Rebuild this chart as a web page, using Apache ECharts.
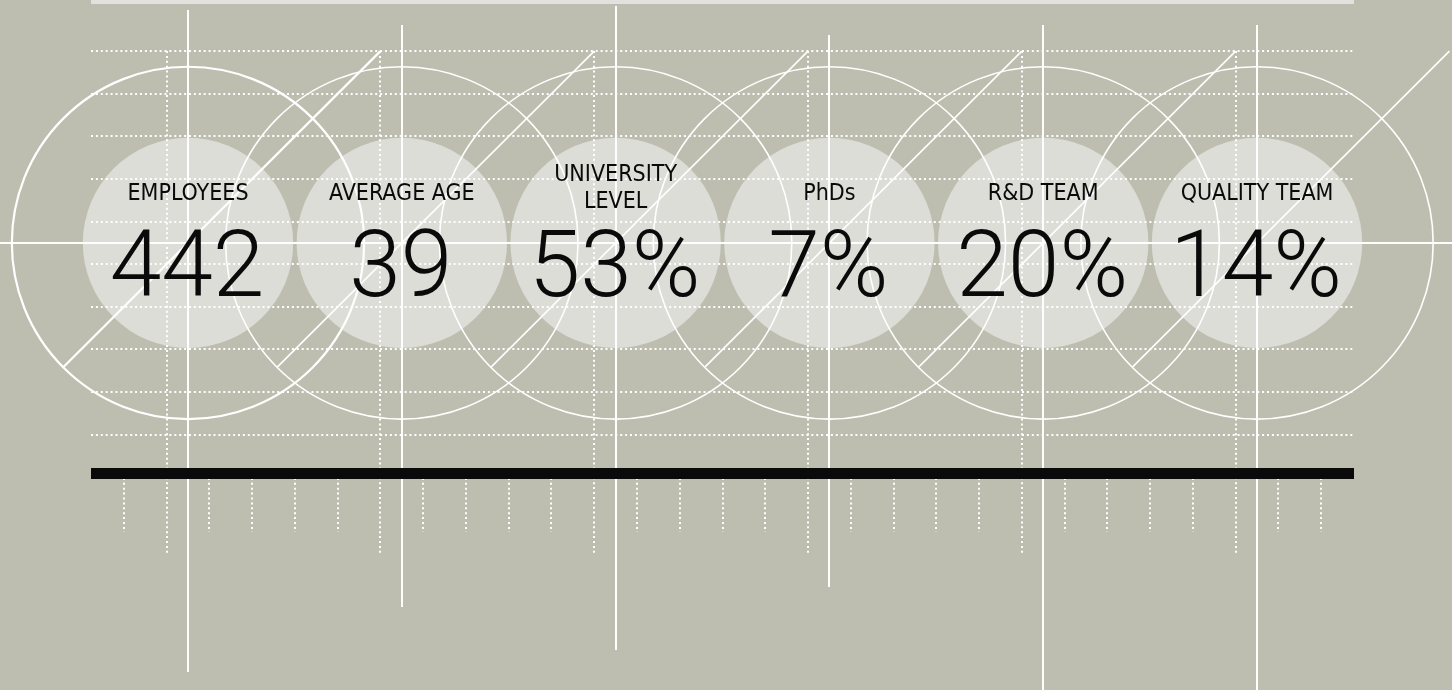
<!DOCTYPE html>
<html>
<head>
<meta charset="utf-8">
<script src="https://cdn.jsdelivr.net/npm/echarts@6/dist/echarts.min.js"></script>
<style>
  html, body { margin: 0; padding: 0; background: #bebeb0; }
  #chart { width: 1452px; height: 690px; }
</style>
</head>
<body>
<div id="chart"></div>
<script>
// ---------------- data ----------------
const categories = ['EMPLOYEES', 'AVERAGE AGE', 'UNIVERSITY\nLEVEL', 'PhDs', 'R&D TEAM', 'QUALITY TEAM'];
const values = [442, 39, 53, 7, 20, 14];
const units = ['', '', '%', '%', '%', '%'];

// ---------------- layout (grid units) ----------------
const PITCH = 5;                      // grid steps between two figures
const X_MIN = -4.397, X_MAX = 29.56;
const Y_MIN = -10.49, Y_MAX = 5.70;
const FRAME_L = -2.27, FRAME_R = 27.27;
const gridRows = [4.5, 3.5, 2.5, 1.5, 0.5, -0.5, -1.5, -2.5, -3.5, -4.5, -5.5];
const tickCols = [-1.5, -0.5, 0.5, 1.5, 2.5, 3.5, 4.5, 5.5, 6.5, 7.5, 8.5, 9.5, 10.5, 11.5, 12.5,
                  13.5, 14.5, 15.5, 16.5, 17.5, 18.5, 19.5, 20.5, 21.5, 22.5, 23.5, 24.5, 25.5, 26.5];
const guideTop = [5.47, 5.12, 5.56, 4.88, 5.12, 5.12];
const guideBottom = [-10.07, -8.54, -9.55, -8.08, -10.6, -10.6];
const RING_R = 4.12, DISC_R = 2.46;
const ROW_TOP = 4.5, LONG_TICK_END = -7.28, SHORT_TICK_END = -6.78, BAR_Y = -5.41;

const BG = '#bebeb0', DISC = '#dcddd7', STRIP = '#e1e2dd', WHITE = '#ffffff', INK = '#0a0a0a';
const LABEL_FONT = '"DejaVu Sans Condensed", "DejaVu Sans", sans-serif';
const NUM_FONT = 'Roboto, "DejaVu Sans Condensed", sans-serif';
const DOT = [2, 2.9];

const chart = echarts.init(document.getElementById('chart'));
const idx = categories.map((c, i) => [i * PITCH, 0, i]);

function px(p) { return [Math.round(p[0]), Math.round(p[1])]; }
function lineEl(p1, p2, style) {
  return { type: 'line', shape: { x1: p1[0], y1: p1[1], x2: p2[0], y2: p2[1] }, style: style };
}

const option = {
  backgroundColor: BG,
  animation: false,
  grid: { left: 0, right: 0, top: 0, bottom: 0 },
  xAxis: { type: 'value', min: X_MIN, max: X_MAX, show: false },
  yAxis: { type: 'value', min: Y_MIN, max: Y_MAX, show: false },
  series: [
    { // top strip
      type: 'custom', z: 1, silent: true, data: [[0, 0]],
      renderItem: function (params, api) {
        const a = px(api.coord([FRAME_L, Y_MAX]));
        const b = px(api.coord([FRAME_R, Y_MAX]));
        return { type: 'rect', shape: { x: a[0], y: a[1], width: b[0] - a[0], height: 4 }, style: { fill: STRIP } };
      }
    },
    { // light discs
      type: 'custom', z: 2, silent: true, data: idx,
      renderItem: function (params, api) {
        const c = api.coord([api.value(0), api.value(1)]);
        const r = api.size([DISC_R, 0])[0];
        return { type: 'circle', shape: { cx: c[0], cy: c[1], r: r }, style: { fill: DISC } };
      }
    },
    { // dotted rows
      type: 'custom', z: 3, silent: true, data: gridRows.map(v => [0, v]),
      renderItem: function (params, api) {
        const y = api.value(1);
        return lineEl(px(api.coord([FRAME_L, y])), px(api.coord([FRAME_R, y])),
          { stroke: WHITE, lineWidth: 2, lineDash: DOT });
      }
    },
    { // short dotted ticks
      type: 'custom', z: 3, silent: true, data: tickCols.map(v => [v, 0]),
      renderItem: function (params, api) {
        const x = api.value(0);
        const isLong = Math.abs(((x + 0.5) % PITCH + PITCH) % PITCH) < 1e-6;
        if (isLong) return;
        return lineEl(px(api.coord([x, BAR_Y])), px(api.coord([x, SHORT_TICK_END])),
          { stroke: WHITE, lineWidth: 2, lineDash: DOT });
      }
    },
    { // long dotted verticals
      type: 'custom', z: 3, silent: true, data: idx,
      renderItem: function (params, api) {
        const x = api.value(0) - 0.5;
        return lineEl(px(api.coord([x, ROW_TOP])), px(api.coord([x, LONG_TICK_END])),
          { stroke: WHITE, lineWidth: 2, lineDash: DOT });
      }
    },
    { // horizontal axis line
      type: 'custom', z: 4, silent: true, data: [[0, 0]],
      renderItem: function (params, api) {
        return lineEl(px(api.coord([X_MIN, 0])), px(api.coord([X_MAX, 0])), { stroke: WHITE, lineWidth: 2 });
      }
    },
    { // solid vertical guides
      type: 'custom', z: 4, silent: true, data: idx,
      renderItem: function (params, api) {
        const i = api.value(2), x = api.value(0);
        return lineEl(px(api.coord([x, guideTop[i]])), px(api.coord([x, guideBottom[i]])),
          { stroke: WHITE, lineWidth: 2 });
      }
    },
    { // rings and diagonals
      type: 'custom', z: 5, silent: true, data: idx,
      renderItem: function (params, api) {
        const i = api.value(2), x = api.value(0), y = api.value(1);
        const c = api.coord([x, y]);
        const r = api.size([RING_R, 0])[0];
        const d = RING_R * Math.SQRT1_2;
        const w = i === 0 ? 2.2 : 1.6;
        return {
          type: 'group',
          children: [
            { type: 'circle', shape: { cx: c[0], cy: c[1], r: r }, style: { fill: null, stroke: WHITE, lineWidth: w } },
            lineEl(api.coord([x - d, y - d]), api.coord([x + ROW_TOP, ROW_TOP]), { stroke: WHITE, lineWidth: w })
          ]
        };
      }
    },
    { // black base bar
      type: 'custom', z: 6, silent: true, data: [[0, 0]],
      renderItem: function (params, api) {
        const a = px(api.coord([FRAME_L, BAR_Y])), b = px(api.coord([FRAME_R, BAR_Y]));
        return { type: 'rect', shape: { x: a[0], y: a[1] - 5, width: b[0] - a[0], height: 11 }, style: { fill: INK } };
      }
    },
    { // texts
      type: 'custom', z: 7, silent: true, data: idx,
      renderItem: function (params, api) {
        const i = api.value(2), x = api.value(0);
        const multi = categories[i].indexOf('\n') >= 0;
        const lp = api.coord([x, multi ? 1.28 : 1.15]);
        const vp = api.coord([x, -0.70]);
        return {
          type: 'group',
          children: [
            { type: 'text', style: { text: categories[i], x: lp[0], y: lp[1], fill: INK,
                fontSize: 23, fontFamily: LABEL_FONT, lineHeight: 27, align: 'center', verticalAlign: 'middle' } },
            { type: 'text', style: { text: values[i] + units[i], x: vp[0] - 1, y: vp[1], fill: INK,
                fontSize: 93, fontWeight: 300, fontFamily: NUM_FONT, align: 'center', verticalAlign: 'middle' } }
          ]
        };
      }
    }
  ]
};
chart.setOption(option);
</script>
</body>
</html>
